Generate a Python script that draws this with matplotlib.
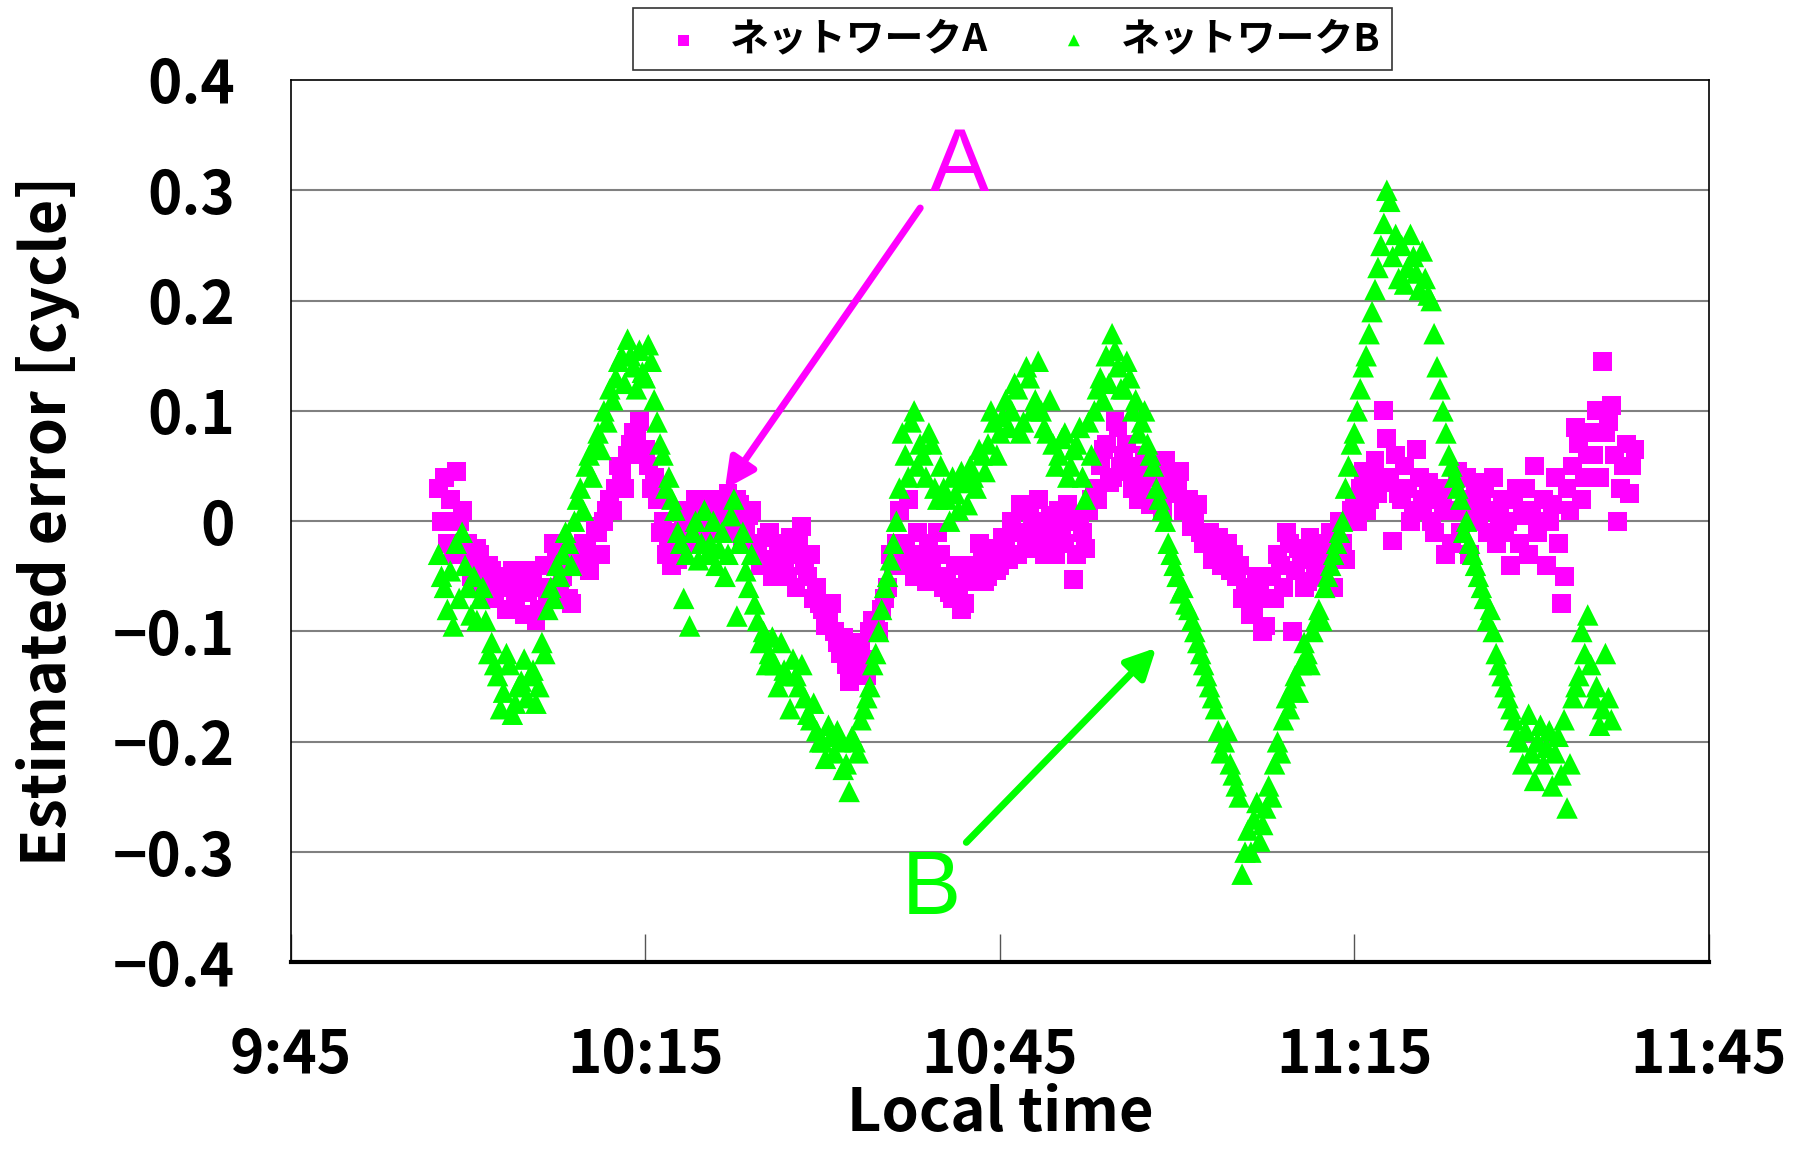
import matplotlib
matplotlib.use("Agg")
import matplotlib.pyplot as plt
import numpy as np

plt.rcParams['font.family'] = ['Noto Sans CJK JP', 'DejaVu Sans']

# minutes after 9:45, samples every 0.5 min (second set shifted by 0.25 min)
a_start = 12.5
b_start = 12.5

# network A (magenta squares)
a_vals1 = [
    0.03, 0.04, 0.02, 0.045, 0.01,
    -0.02, -0.04, -0.03, -0.05, -0.045, -0.06,
    -0.06, -0.05, -0.07, -0.055, -0.065, -0.05, -0.08,
    -0.04, -0.06, -0.03, -0.05, -0.07, -0.04,
    -0.04, -0.025, -0.03, -0.01, 0.0,
    0.02, 0.03, 0.045,
    0.06, 0.08, 0.09, 0.065,
    0.03, 0.02, 0.0, -0.02,
    -0.01, -0.03, 0.01, -0.02,
    0.0, 0.015, -0.01, 0.02, 0.005, 0.025, 0.0, 0.015, -0.01, 0.01,
    -0.02, -0.035, -0.01, -0.04, -0.025, -0.05, -0.03, -0.02, -0.04, -0.03, -0.06,
    -0.08, -0.09, -0.1,
    -0.12, -0.13, -0.115, -0.14, -0.125, -0.1,
    -0.09, -0.08, -0.06, -0.04,
    0.01, -0.02, -0.04, -0.01,
    -0.04, -0.02, -0.05, -0.03,
    -0.05, -0.07, -0.06, -0.075, -0.05,
    -0.045, -0.03, -0.05, -0.025, -0.04,
    -0.02, 0.0, -0.03, -0.01, 0.01, -0.02, 0.0, -0.015,
    -0.01, 0.01, -0.02, 0.0, -0.03, -0.01, 0.01,
    0.03, 0.05, 0.07, 0.04, 0.085, 0.06, 0.045,
    0.05, 0.03, 0.045, 0.02, 0.04, 0.055, 0.025,
    0.03, 0.01, 0.02, 0.0, -0.01,
    -0.02, -0.035, -0.015, -0.03, -0.045,
    -0.05, -0.07, -0.06, -0.08, -0.065, -0.095,
    -0.05, -0.03, -0.06, -0.02, -0.045, -0.035, -0.055, -0.03,
    -0.02, -0.04, -0.01, -0.03, -0.02, 0.0,
    0.02, 0.03, 0.01, 0.04, 0.025, 0.1,
    0.04, 0.06, 0.02, 0.03, 0.01, 0.04, 0.02, 0.0, 0.03, 0.015,
    0.01, 0.03, -0.01, 0.04, 0.02, 0.0, 0.03, 0.01, -0.02, 0.02,
    0.0, 0.02, -0.02, 0.03, 0.01, -0.01, 0.02, 0.0, 0.04, -0.075,
    0.03, 0.05, 0.07, 0.04,
    0.08, 0.1, 0.145, 0.09, 0.06, 0.03, 0.07, 0.05,
]
a_vals2 = [
    0.0, -0.02, -0.03, 0.0, -0.03,
    -0.05, -0.025, -0.06, -0.04, -0.07, -0.05,
    -0.08, -0.045, -0.06, -0.085, -0.045, -0.09, -0.06,
    -0.07, -0.02, -0.065, -0.035, -0.075, -0.03,
    -0.02, -0.045, -0.005, -0.03, 0.01,
    0.01, 0.05, 0.03,
    0.07, 0.075, 0.06, 0.05,
    0.04, -0.01, -0.03, -0.04,
    -0.035, 0.0, -0.015, 0.02,
    -0.015, 0.005, 0.02, -0.005, 0.01, -0.01, 0.02, -0.02, 0.005, -0.02,
    -0.04, -0.015, -0.05, -0.02, -0.045, -0.015, -0.06, -0.005, -0.05, -0.07, -0.075,
    -0.095, -0.075, -0.11,
    -0.105, -0.145, -0.13, -0.11, -0.14, -0.09,
    -0.1, -0.07, -0.03, -0.02,
    -0.03, 0.02, -0.05, -0.03,
    -0.055, -0.035, -0.01, -0.06,
    -0.065, -0.04, -0.08, -0.055, -0.04,
    -0.02, -0.055, -0.035, -0.045, -0.015,
    -0.035, -0.01, 0.015, -0.025, -0.005, 0.02, -0.03, 0.005,
    -0.03, -0.005, 0.015, -0.053, 0.005, -0.025, 0.02,
    0.02, 0.065, 0.035, 0.09, 0.05, 0.07, 0.03,
    0.02, 0.06, 0.015, 0.05, 0.01, 0.03, 0.045,
    0.045, 0.02, -0.005, 0.015, -0.02,
    -0.01, -0.025, -0.04, -0.02, -0.03,
    -0.04, -0.06, -0.085, -0.05, -0.1, -0.07,
    -0.07, -0.04, -0.01, -0.1, -0.025, -0.06, -0.015, -0.045,
    -0.05, -0.025, -0.06, 0.0, -0.035, 0.01,
    0.0, 0.045, 0.02, 0.055, 0.035, 0.075,
    -0.018, 0.025, 0.05, 0.0, 0.065, 0.015, 0.035, -0.01, 0.02, -0.03,
    -0.02, 0.045, 0.01, -0.03, 0.035, 0.015, -0.01, 0.04, 0.005, -0.01,
    -0.04, 0.03, 0.005, -0.03, 0.05, 0.0, -0.04, 0.015, -0.02, -0.05,
    0.01, 0.085, 0.02, 0.06,
    0.06, 0.04, 0.08, 0.105, 0.0, 0.05, 0.025, 0.065,
]

# network B (green triangles)
b_vals1 = [
    -0.03, -0.06, -0.045,
    -0.02, -0.01, -0.06,
    -0.05, -0.07, -0.09, -0.11,
    -0.14, -0.155, -0.13, -0.165, -0.145, -0.16, -0.135, -0.15, -0.12,
    -0.06, -0.04, -0.03, -0.02, 0.0,
    0.03, 0.05, 0.04,
    0.08, 0.1, 0.12,
    0.13, 0.15, 0.165, 0.14, 0.155, 0.13, 0.145,
    0.09, 0.06, 0.04, 0.01,
    -0.02, -0.03, -0.01, -0.035,
    0.01, -0.02, -0.04, -0.01, -0.03, 0.02, -0.02, -0.045, -0.03,
    -0.09, -0.1, -0.12, -0.13, -0.11, -0.14, -0.125, -0.15, -0.16,
    -0.18, -0.19, -0.2, -0.185, -0.21, -0.2, -0.22, -0.195, -0.21,
    -0.17, -0.15, -0.12, -0.08,
    -0.05, -0.02,
    0.03, 0.06, 0.09, 0.05,
    0.06, 0.08, 0.03, 0.05,
    0.02, 0.04, 0.01, 0.035, 0.05, 0.03, 0.06,
    0.07, 0.09, 0.08, 0.11, 0.1, 0.12, 0.09, 0.13, 0.11, 0.1, 0.08, 0.07,
    0.06, 0.08, 0.05, 0.07, 0.04, 0.09, 0.1,
    0.13, 0.15, 0.17, 0.14, 0.12, 0.13,
    0.11, 0.09, 0.07, 0.05,
    0.02, 0.0,
    -0.03, -0.05, -0.06, -0.08,
    -0.1, -0.12, -0.14, -0.16,
    -0.19, -0.2, -0.22, -0.24, -0.32,
    -0.28, -0.27, -0.29, -0.26, -0.25,
    -0.2, -0.18, -0.17,
    -0.14, -0.13, -0.12, -0.1,
    -0.08, -0.06, -0.04, -0.02, 0.0,
    0.05, 0.08, 0.12, 0.15, 0.19,
    0.23, 0.27, 0.29, 0.26,
    0.25, 0.23, 0.24, 0.21, 0.22, 0.2,
    0.14, 0.1,
    0.06, 0.04, 0.02, 0.0,
    -0.03, -0.05, -0.07, -0.08,
    -0.12, -0.14, -0.16,
    -0.18, -0.2, -0.19, -0.21, -0.2, -0.22, -0.19, -0.21, -0.23, -0.26,
    -0.16, -0.14, -0.12, -0.13,
    -0.15, -0.17, -0.16,
]
b_vals2 = [
    -0.05, -0.08, -0.095,
    -0.07, -0.04, -0.085,
    -0.09, -0.06, -0.12, -0.13,
    -0.17, -0.12, -0.175, -0.15, -0.125, -0.14, -0.165, -0.11, -0.08,
    -0.07, -0.05, -0.01, -0.04, 0.02,
    0.01, 0.06, 0.07,
    0.065, 0.09, 0.11,
    0.145, 0.125, 0.15, 0.12, 0.135, 0.16, 0.11,
    0.07, 0.03, 0.02, -0.01,
    -0.07, -0.095, 0.0, -0.02,
    -0.03, 0.0, -0.025, -0.05, 0.005, -0.086, -0.01, -0.06, -0.075,
    -0.11, -0.13, -0.105, -0.15, -0.135, -0.17, -0.14, -0.13, -0.175,
    -0.165, -0.2, -0.215, -0.195, -0.19, -0.225, -0.245, -0.2, -0.18,
    -0.16, -0.13, -0.1, -0.06,
    -0.035, 0.0,
    0.08, 0.04, 0.1, 0.07,
    0.04, 0.07, 0.02, 0.03,
    0.0, 0.025, 0.045, 0.015, 0.04, 0.065, 0.045,
    0.1, 0.06, 0.095, 0.085, 0.125, 0.08, 0.14, 0.1, 0.145, 0.085, 0.11, 0.05,
    0.075, 0.04, 0.065, 0.085, 0.02, 0.06, 0.12,
    0.11, 0.125, 0.155, 0.12, 0.145, 0.1,
    0.08, 0.1, 0.06, 0.03,
    0.01, -0.02,
    -0.04, -0.065, -0.075, -0.09,
    -0.11, -0.13, -0.15, -0.17,
    -0.21, -0.19, -0.23, -0.25, -0.3,
    -0.3, -0.255, -0.275, -0.24, -0.22,
    -0.21, -0.16, -0.15,
    -0.155, -0.11, -0.13, -0.09,
    -0.09, -0.05, -0.03, -0.01, 0.03,
    0.07, 0.1, 0.14, 0.17, 0.21,
    0.25, 0.3, 0.24, 0.22,
    0.215, 0.26, 0.225, 0.245, 0.205, 0.17,
    0.12, 0.08,
    0.05, 0.03, -0.01, -0.02,
    -0.04, -0.06, -0.09, -0.1,
    -0.13, -0.15, -0.17,
    -0.195, -0.22, -0.175, -0.235, -0.185, -0.205, -0.24, -0.195, -0.18, -0.22,
    -0.15, -0.1, -0.085, -0.16,
    -0.185, -0.12, -0.18,
]

x_ticks = [0, 30, 60, 90, 120]
x_labels = ['9:45', '10:15', '10:45', '11:15', '11:45']
y_ticks = [0.4, 0.3, 0.2, 0.1, 0.0, -0.1, -0.2, -0.3, -0.4]
y_labels = ['0.4', '0.3', '0.2', '0.1', '0', '\u22120.1', '\u22120.2', '\u22120.3', '\u22120.4']

# sample times
ta1 = a_start + 0.5 * np.arange(len(a_vals1))
ta2 = a_start + 0.25 + 0.5 * np.arange(len(a_vals2))
tb1 = b_start + 0.5 * np.arange(len(b_vals1))
tb2 = b_start + 0.25 + 0.5 * np.arange(len(b_vals2))

fig = plt.figure(figsize=(17.95, 11.49), dpi=100)
ax = fig.add_axes([0.162, 0.1624, 0.790, 0.768])

magenta = '#ff00ff'
green = '#00ff00'

ax.scatter(np.concatenate([ta1, ta2]), a_vals1 + a_vals2, marker='s', s=185,
           color=magenta, edgecolors='none', zorder=3, label='ネットワークA')
ax.scatter(np.concatenate([tb1, tb2]), b_vals1 + b_vals2, marker='^', s=240,
           color=green, edgecolors='none', zorder=4, label='ネットワークB')

ax.set_xlim(0, 120)
ax.set_ylim(-0.4, 0.4)
ax.set_yticks(y_ticks)
ax.set_yticklabels(y_labels, fontsize=42, fontweight='bold')
ax.set_xticks(x_ticks)
ax.set_xticklabels(x_labels, fontsize=42, fontweight='bold')
ax.tick_params(axis='y', length=0, pad=40)
ax.tick_params(axis='x', direction='in', length=20, width=1, pad=46, color='#555555')

for v in y_ticks[1:-1]:
    ax.axhline(v, color='#808080', linewidth=1.5, zorder=1)

for side in ['top', 'right', 'left']:
    ax.spines[side].set_linewidth(1.2)
ax.spines['bottom'].set_linewidth(3)

ax.set_xlabel('Local time', fontsize=43, fontweight='bold')
ax.xaxis.set_label_coords(0.5, -0.138)
ax.set_ylabel('Estimated error [cycle]', fontsize=44, fontweight='bold', labelpad=24)

# annotations
ax.annotate('', xy=(36.6, 0.027), xytext=(53.4, 0.286),
            arrowprops=dict(arrowstyle='-|>', color=magenta, lw=5, mutation_scale=45))
ax.text(56.6, 0.32, 'A', color=magenta, fontsize=64, ha='center', va='center',
        family=['Liberation Sans', 'DejaVu Sans'])
ax.annotate('', xy=(73.4, -0.113), xytext=(57.0, -0.293),
            arrowprops=dict(arrowstyle='-|>', color=green, lw=5, mutation_scale=45))
ax.text(54.2, -0.335, 'B', color=green, fontsize=64, ha='center', va='center',
        family=['Liberation Sans', 'DejaVu Sans'])

leg = fig.legend(loc='center', bbox_to_anchor=(0.564, 0.966), ncol=2,
                 prop={'weight': 'bold', 'size': 28}, frameon=True, fancybox=False,
                 borderpad=0.3, handletextpad=0.2, columnspacing=1.2, markerscale=0.55)
leg.get_frame().set_edgecolor('black')
leg.get_frame().set_linewidth(1.2)

fig.savefig('out.png', dpi=100)
